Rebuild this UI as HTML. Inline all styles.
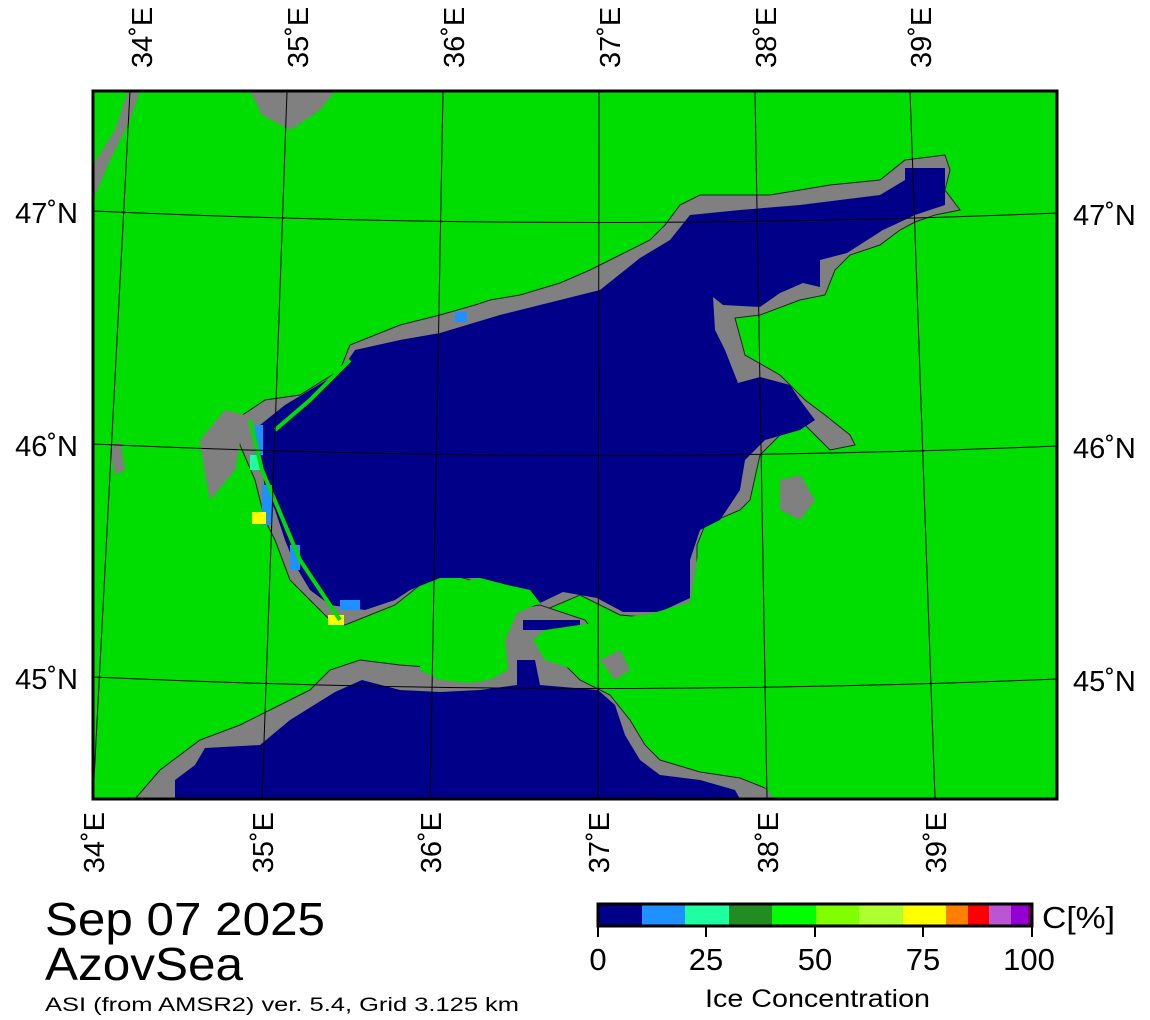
<!DOCTYPE html>
<html><head><meta charset="utf-8"><style>
html,body{margin:0;padding:0;background:#fff;}
svg{display:block;font-family:"Liberation Sans",sans-serif;}
</style></head><body>
<svg width="1150" height="1020" viewBox="0 0 1150 1020" xmlns="http://www.w3.org/2000/svg">
<defs><clipPath id="c"><rect x="93" y="91" width="964" height="708"/></clipPath></defs>
<rect x="93" y="91" width="964" height="708" fill="#00dd00"/>
<g clip-path="url(#c)">
<polygon points="93,165 115,130 128,91 140,91 130,120 110,160 93,200" fill="#808080"/>
<polygon points="250,91 335,91 320,110 290,130 262,115" fill="#808080"/>
<polygon fill="#808080" stroke="#222" stroke-width="1" points="680,205 700,195 770,195 800,190 830,185 880,180 905,160 945,155 950,170 945,190 960,210 935,215 915,222 900,230 880,245 850,255 835,270 825,295 800,300 760,315 735,318 745,355 780,375 805,400 825,415 850,435 855,445 830,450 810,430 800,420 780,435 760,455 750,500 740,510 705,525 697,545 697,600 670,610 655,618 620,615 580,595 545,610 525,600 510,595 490,585 440,572 420,585 395,605 345,625 330,620 310,600 290,580 275,540 265,520 255,480 240,445 235,420 265,400 300,395 340,370 350,345 400,325 440,315 475,305 490,300 520,295 560,283 590,270 620,255 650,240 665,225"/>
<polygon fill="#000088" points="690,215 740,210 800,205 880,195 905,180 905,168 945,168 945,205 915,215 883,230 847,253 820,260 820,287 803,283 780,293 760,307 723,305 713,297 715,330 725,350 738,383 760,377 790,385 800,400 815,420 800,430 765,440 745,460 740,490 720,520 700,530 690,560 690,598 660,612 623,612 597,598 563,592 540,603 530,590 507,585 480,578 440,578 410,590 395,600 365,610 330,605 310,590 295,565 285,540 275,510 265,490 260,450 260,425 285,405 340,372 355,350 400,340 440,333 500,315 560,300 600,290 640,258 670,240"/>
<rect x="255" y="425" width="8" height="30" fill="#1e90ff"/>
<rect x="250" y="455" width="10" height="15" fill="#1effa0"/>
<rect x="262" y="485" width="10" height="40" fill="#1e90ff"/>
<rect x="252" y="512" width="14" height="12" fill="#ffff00"/>
<rect x="290" y="545" width="10" height="25" fill="#1e90ff"/>
<rect x="328" y="615" width="16" height="10" fill="#ffff00"/>
<rect x="340" y="600" width="20" height="10" fill="#1e90ff"/>
<rect x="455" y="312" width="12" height="10" fill="#1e90ff"/>
<polyline points="250,420 262,470 300,560 340,620" fill="none" stroke="#00dd00" stroke-width="4"/>
<polyline points="275,430 310,400 350,360" fill="none" stroke="#00dd00" stroke-width="4"/>
<polygon fill="#808080" stroke="#222" stroke-width="1" points="135,799 160,770 200,740 240,725 280,705 310,690 330,670 360,660 400,665 440,668 490,665 500,640 505,610 540,605 585,620 600,640 560,660 580,680 610,695 630,720 645,745 660,760 700,772 740,778 770,790 780,799"/>
<polygon fill="#000088" points="175,799 175,780 195,765 205,748 260,745 290,720 335,692 362,680 400,690 440,692 480,690 517,685 517,660 535,660 540,685 598,690 615,705 625,735 640,760 660,775 700,780 735,790 740,799"/>
<rect x="523" y="620" width="57" height="10" fill="#000088"/>
<polygon fill="#00dd00" points="420,600 440,585 480,578 507,585 530,590 540,603 517,613 505,640 508,670 490,680 470,683 440,680 420,670"/>
<polygon fill="#00dd00" points="533,640 545,630 600,622 620,618 650,614 690,602 697,560 700,540 820,540 820,799 775,799 767,790 753,773 733,753 723,773 700,770 670,760 660,745 645,720 633,700 610,680 575,670 545,660"/>
<polygon fill="#808080" points="600,660 620,650 630,670 615,680"/>
<polygon fill="#808080" points="780,480 800,475 815,500 800,520 780,510"/>
<polygon fill="#808080" points="110,450 120,440 125,470 115,475"/>
<polygon fill="#808080" points="200,440 225,410 245,415 235,470 210,500 205,475"/>
</g>
<g stroke="#000" stroke-width="1" fill="none">
<line x1="93" y1="799" x2="130" y2="91"/>
<line x1="262" y1="799" x2="287" y2="91"/>
<line x1="430" y1="799" x2="443" y2="91"/>
<line x1="598" y1="799" x2="599" y2="91"/>
<line x1="767" y1="799" x2="755" y2="91"/>
<line x1="935" y1="799" x2="910" y2="91"/>
<path d="M93,211 Q575,233 1057,213"/>
<path d="M93,444 Q575,466 1057,446"/>
<path d="M93,677 Q575,699 1057,679"/>
</g>
<rect x="93" y="91" width="964" height="708" fill="none" stroke="#000" stroke-width="3"/>
<g font-size="29" fill="#000">
<text transform="translate(152,68) rotate(-90)">34˚E</text>
<text transform="translate(308,68) rotate(-90)">35˚E</text>
<text transform="translate(464,68) rotate(-90)">36˚E</text>
<text transform="translate(620,68) rotate(-90)">37˚E</text>
<text transform="translate(776,68) rotate(-90)">38˚E</text>
<text transform="translate(931,68) rotate(-90)">39˚E</text>
<text text-anchor="end" transform="translate(104,812) rotate(-90)">34˚E</text>
<text text-anchor="end" transform="translate(273,812) rotate(-90)">35˚E</text>
<text text-anchor="end" transform="translate(441,812) rotate(-90)">36˚E</text>
<text text-anchor="end" transform="translate(609,812) rotate(-90)">37˚E</text>
<text text-anchor="end" transform="translate(778,812) rotate(-90)">38˚E</text>
<text text-anchor="end" transform="translate(946,812) rotate(-90)">39˚E</text>
<text x="78" y="223" text-anchor="end">47˚N</text>
<text x="78" y="456" text-anchor="end">46˚N</text>
<text x="78" y="689" text-anchor="end">45˚N</text>
<text x="1073" y="225">47˚N</text>
<text x="1073" y="458">46˚N</text>
<text x="1073" y="691">45˚N</text>
</g>
<text x="45" y="935" font-size="46" textLength="280" lengthAdjust="spacingAndGlyphs">Sep 07 2025</text>
<text x="45" y="980" font-size="46" textLength="198" lengthAdjust="spacingAndGlyphs">AzovSea</text>
<text x="45" y="1011" font-size="19" textLength="474" lengthAdjust="spacingAndGlyphs">ASI (from AMSR2) ver. 5.4,  Grid 3.125 km</text>
<g>
<rect x="598" y="904" width="44" height="22" fill="#000088"/>
<rect x="642" y="904" width="43" height="22" fill="#1e90ff"/>
<rect x="685" y="904" width="44" height="22" fill="#1effa0"/>
<rect x="729" y="904" width="43" height="22" fill="#228b22"/>
<rect x="772" y="904" width="44" height="22" fill="#00ff00"/>
<rect x="816" y="904" width="43" height="22" fill="#7fff00"/>
<rect x="859" y="904" width="44" height="22" fill="#adff2f"/>
<rect x="903" y="904" width="43" height="22" fill="#ffff00"/>
<rect x="946" y="904" width="22" height="22" fill="#ff8000"/>
<rect x="968" y="904" width="21" height="22" fill="#ff0000"/>
<rect x="989" y="904" width="22" height="22" fill="#ba55d3"/>
<rect x="1011" y="904" width="17" height="22" fill="#9400d3"/>
<rect x="1028" y="904" width="4" height="22" fill="#800060"/>
<rect x="598" y="904" width="434" height="22" fill="none" stroke="#000" stroke-width="3"/>
<g stroke="#000" stroke-width="2">
<line x1="598" y1="926" x2="598" y2="937"/><line x1="706" y1="926" x2="706" y2="937"/><line x1="815" y1="926" x2="815" y2="937"/><line x1="923" y1="926" x2="923" y2="937"/><line x1="1032" y1="926" x2="1032" y2="937"/>
</g>
<g font-size="31" text-anchor="middle">
<text x="598" y="970">0</text><text x="706" y="970">25</text><text x="815" y="970">50</text><text x="923" y="970">75</text><text x="1029" y="970">100</text>
</g>
<text x="1042" y="928" font-size="31" textLength="73" lengthAdjust="spacingAndGlyphs">C[%]</text>
<text x="705" y="1007" font-size="25" textLength="225" lengthAdjust="spacingAndGlyphs">Ice Concentration</text>
</g>
</svg>
</body></html>
